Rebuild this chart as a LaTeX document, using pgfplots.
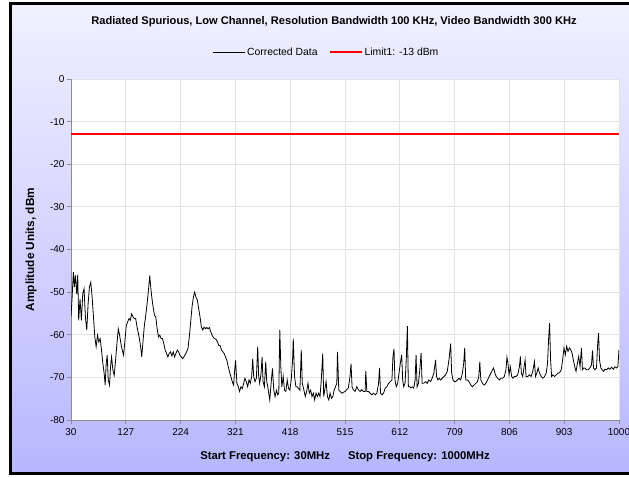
\documentclass[border=0pt]{standalone}
\usepackage{pgfplots}
\pgfplotsset{compat=1.18}
\usepackage{pgfplotstable}
\usepackage{fontspec}
\setmainfont{Liberation Sans}
\definecolor{bgbot}{RGB}{150,150,255}
\definecolor{bgmid}{RGB}{195,195,255}
\definecolor{bgtop}{RGB}{240,240,255}
\definecolor{gridc}{RGB}{226,226,226}
\definecolor{axc}{RGB}{140,140,140}
\pgfdeclareverticalshading{bgshade}{100bp}{color(0bp)=(bgbot); color(35bp)=(bgmid); color(75bp)=(bgtop); color(92bp)=(white); color(100bp)=(white)}
\pgfplotstableread{
f db
30.0 -55.8
31.8 -51.6
34.2 -45.3
35.9 -48.8
37.7 -46.1
40.1 -50.4
41.9 -45.9
43.6 -56.6
46.0 -51.6
48.4 -56.6
50.8 -50.4
53.1 -49.2
55.5 -55.8
57.9 -58.9
60.3 -52.7
62.6 -48.8
65.0 -47.7
67.4 -51.2
69.8 -55.8
72.1 -60.5
74.5 -62.8
76.9 -60.1
79.2 -61.7
81.6 -60.9
84.0 -63.6
86.4 -66.7
88.7 -69.1
90.5 -71.8
92.3 -66.7
94.1 -64.8
95.9 -70.6
98.2 -71.8
100.0 -67.5
101.8 -65.2
104.2 -68.3
106.5 -69.5
108.9 -66.0
111.3 -62.1
113.7 -58.6
116.0 -60.1
118.4 -62.1
120.8 -63.6
123.1 -64.8
125.5 -61.3
127.9 -57.8
130.3 -57.0
132.6 -56.2
135.0 -56.6
137.4 -55.1
139.8 -55.8
142.1 -56.2
144.5 -56.2
146.9 -58.2
149.3 -59.7
151.6 -61.3
154.0 -63.6
155.2 -65.2
157.6 -61.3
159.9 -57.8
162.3 -55.4
164.7 -52.7
167.1 -49.6
169.4 -46.1
170.6 -48.1
173.0 -51.2
175.4 -53.5
177.7 -55.4
180.1 -55.8
182.5 -58.6
184.9 -60.5
187.2 -60.1
189.6 -60.9
192.0 -60.9
194.3 -62.1
196.7 -63.6
199.1 -64.4
201.5 -65.2
203.8 -64.4
206.2 -64.0
208.6 -65.0
211.0 -64.0
213.3 -65.2
215.7 -64.4
218.1 -63.6
220.5 -64.0
222.8 -64.8
225.2 -65.2
227.6 -65.6
229.9 -65.2
232.3 -64.6
234.7 -64.0
237.1 -63.2
239.4 -60.5
241.8 -57.0
244.2 -53.5
246.6 -51.2
248.9 -50.0
251.3 -51.2
253.7 -51.9
256.0 -53.9
258.4 -55.8
260.8 -58.2
263.2 -58.9
265.5 -58.2
267.9 -58.6
270.3 -58.3
272.7 -58.6
275.0 -58.3
277.4 -59.3
279.8 -60.1
282.2 -60.7
284.5 -60.9
286.9 -61.1
289.3 -61.7
291.6 -62.5
294.0 -62.5
296.4 -63.6
298.8 -64.0
301.1 -64.4
303.5 -65.2
305.9 -66.0
308.3 -67.5
310.6 -68.7
313.0 -69.8
315.4 -71.0
317.8 -71.8
319.5 -68.7
321.3 -66.0
323.7 -71.4
326.1 -72.2
328.4 -73.3
330.8 -72.2
333.2 -72.6
335.6 -71.4
337.9 -70.2
340.3 -71.0
342.7 -72.2
345.1 -70.6
347.4 -71.4
349.8 -69.8
351.6 -65.6
353.4 -69.8
355.7 -71.0
358.1 -70.2
360.5 -62.8
362.2 -69.8
364.0 -71.4
366.4 -69.1
368.2 -65.2
370.0 -71.0
372.3 -72.2
374.7 -66.3
376.5 -71.0
378.3 -72.2
380.0 -73.7
381.8 -75.3
384.2 -71.4
386.6 -67.9
388.9 -73.0
391.3 -74.5
393.7 -73.0
396.1 -74.1
397.8 -73.7
399.6 -58.8
401.4 -67.5
403.2 -72.2
405.6 -69.8
407.9 -73.0
410.3 -73.3
412.7 -70.6
415.1 -72.6
417.4 -73.0
419.8 -70.6
422.2 -66.0
423.4 -60.9
425.7 -69.8
428.1 -72.2
430.5 -72.2
432.9 -72.6
435.2 -73.0
437.6 -63.6
439.4 -71.4
442.3 -73.0
444.7 -74.5
447.1 -73.3
449.5 -71.4
451.8 -73.7
454.2 -73.0
456.6 -74.5
459.0 -73.7
461.3 -75.3
463.7 -73.7
466.1 -74.5
468.4 -73.7
470.8 -74.5
473.2 -70.2
475.6 -64.4
477.3 -74.5
479.1 -73.0
481.5 -71.0
483.9 -74.5
486.3 -75.3
488.6 -73.7
491.0 -74.9
493.4 -74.5
495.7 -73.0
498.1 -72.2
500.5 -71.4
501.7 -64.0
504.0 -73.0
506.4 -73.3
509.1 -73.7
515.0 -73.3
520.9 -72.5
523.9 -69.8
525.7 -66.8
527.5 -72.2
529.8 -72.9
532.8 -73.3
535.8 -72.2
538.7 -72.9
541.7 -73.3
544.7 -72.9
547.6 -73.3
550.6 -73.3
551.8 -68.5
553.6 -73.3
556.6 -73.3
559.5 -73.7
562.5 -74.1
565.5 -73.7
568.4 -74.1
571.4 -73.7
574.4 -71.4
576.1 -67.8
577.9 -73.7
580.3 -74.1
583.3 -73.7
586.2 -72.5
589.2 -72.2
592.2 -71.4
595.1 -71.0
598.1 -70.6
599.9 -65.1
601.7 -63.3
603.4 -70.6
605.8 -72.2
608.2 -71.4
610.6 -69.0
612.9 -66.7
615.3 -64.7
617.1 -70.6
618.9 -72.2
621.3 -71.4
623.6 -65.3
625.4 -58.0
627.2 -72.2
629.6 -72.2
632.0 -72.5
634.3 -72.2
636.7 -72.5
639.1 -70.6
640.8 -64.7
642.6 -72.2
645.0 -71.4
647.4 -68.2
649.7 -64.3
651.5 -71.4
654.5 -71.4
657.5 -71.0
660.4 -71.4
663.4 -70.6
666.4 -71.0
669.3 -70.2
672.3 -69.0
675.3 -65.9
677.1 -69.8
679.4 -70.6
681.8 -70.2
684.2 -70.6
687.1 -70.2
690.1 -69.8
693.1 -69.4
696.0 -68.6
699.0 -65.9
702.0 -62.1
703.8 -69.0
706.1 -70.6
708.5 -71.0
710.9 -71.0
713.9 -70.6
716.8 -70.2
719.8 -70.6
722.8 -69.0
725.1 -66.7
726.9 -63.1
728.7 -70.6
731.7 -70.6
734.6 -71.0
737.6 -71.8
740.6 -72.2
743.5 -71.8
746.5 -71.4
749.5 -71.0
751.8 -69.8
753.6 -66.3
755.4 -70.6
758.4 -71.4
761.3 -71.8
764.3 -71.4
767.3 -70.6
770.2 -69.8
773.2 -69.0
776.2 -68.2
778.0 -67.8
780.3 -69.0
782.7 -69.8
785.1 -70.2
788.1 -70.6
791.0 -70.2
794.0 -70.2
797.0 -69.8
799.9 -68.2
801.7 -65.3
803.5 -66.7
805.3 -69.4
807.6 -67.5
810.0 -69.8
812.4 -70.2
814.8 -69.8
817.7 -69.8
820.7 -69.4
823.7 -67.5
825.5 -65.1
827.2 -69.0
829.6 -69.8
832.0 -67.5
833.8 -65.9
835.5 -69.8
838.5 -69.8
841.5 -69.4
844.4 -69.8
847.4 -68.6
850.4 -66.3
852.2 -69.8
854.5 -69.0
856.9 -67.8
859.3 -69.0
862.3 -69.8
865.2 -70.2
868.2 -69.8
871.2 -69.0
873.5 -66.7
875.3 -61.2
877.1 -57.3
878.9 -65.9
880.7 -69.8
883.0 -69.4
886.0 -69.8
889.0 -69.4
891.9 -69.0
894.9 -68.9
897.9 -68.2
900.2 -65.9
902.6 -63.1
905.0 -64.7
907.4 -62.7
909.7 -63.9
912.1 -63.1
914.5 -63.5
916.9 -64.3
919.2 -65.9
921.6 -67.5
924.0 -68.6
926.4 -66.7
928.7 -65.1
931.1 -67.5
933.5 -63.1
935.3 -68.2
937.6 -67.8
939.4 -67.8
942.4 -68.2
945.4 -68.2
948.3 -67.8
951.3 -67.1
953.1 -63.7
954.9 -67.8
957.2 -68.2
960.2 -67.8
962.0 -62.7
963.8 -59.6
965.5 -65.9
967.9 -67.8
970.3 -68.2
972.7 -68.6
975.0 -68.1
978.0 -68.2
981.0 -67.8
983.9 -68.1
986.9 -67.6
989.9 -68.1
992.8 -67.5
995.8 -67.8
998.0 -67.5
999.0 -65.5
1000.0 -63.5
}\corrected
\pgfplotstableread{
f db
30 -13
1000 -13
}\limitline
\begin{document}
\begin{tikzpicture}[x=1pt,y=1pt]
\useasboundingbox (0,0) rectangle (629,477);
\shade[shading=bgshade] (12,3.5) rectangle (629,471.5);
\draw[black,line width=3pt] (629,473) -- (10.5,473) -- (10.5,4) -- (629,4);
\node[font=\bfseries\fontsize{11.1}{13}\selectfont] at (334,455.5) {Radiated Spurious, Low Channel, Resolution Bandwidth 100 KHz, Video Bandwidth 300 KHz};
\begin{axis}[
  at={(71pt,57pt)}, anchor=south west,
  scale only axis, width=548pt, height=341pt,
  xmin=30, xmax=1000, ymin=-80, ymax=0,
  xtick={30,127,224,321,418,515,612,709,806,903,1000},
  ytick={-80,-70,-60,-50,-40,-30,-20,-10,0},
  axis x line=bottom, axis y line=left,
  axis line style={axc,-,line width=0.8pt},
  tick style={axc,line width=0.8pt},
  tick align=outside, major tick length=4pt,
  grid=major, major grid style={gridc,line width=0.8pt},
  axis background/.style={fill=white},
  /pgf/number format/assume math mode=true,
  /pgf/number format/1000 sep={},
  ticklabel style={font=\fontsize{10}{12}\selectfont},
  xticklabel style={yshift=-1pt},
  yticklabel style={xshift=1pt},
  xlabel={Start Frequency: 30MHz\hspace{18pt}Stop Frequency: 1000MHz},
  xlabel style={font=\bfseries\fontsize{11.3}{13}\selectfont, at={(axis description cs:0.5,-0.108)}, anchor=center},
  ylabel={Amplitude Units, dBm},
  ylabel style={font=\bfseries\fontsize{11.8}{13}\selectfont, at={(axis description cs:-0.073,0.5)}, anchor=center},
  legend columns=2,
  legend style={draw=none, fill=none, at={(rel axis cs:0.466,1.079)}, anchor=center,
    font=\fontsize{10.4}{12}\selectfont, /tikz/every even column/.append style={column sep=9pt}},
  legend image code/.code={\draw[#1] (0pt,0pt) -- (32pt,0pt);},
]
\addplot[black, line width=0.8pt] table[x=f,y=db] {\corrected};
\addlegendentry{Corrected Data}
\addplot[red, line width=2pt] table[x=f,y=db] {\limitline};
\addlegendentry{Limit1: -13 dBm}
\end{axis}
\end{tikzpicture}
\end{document}
